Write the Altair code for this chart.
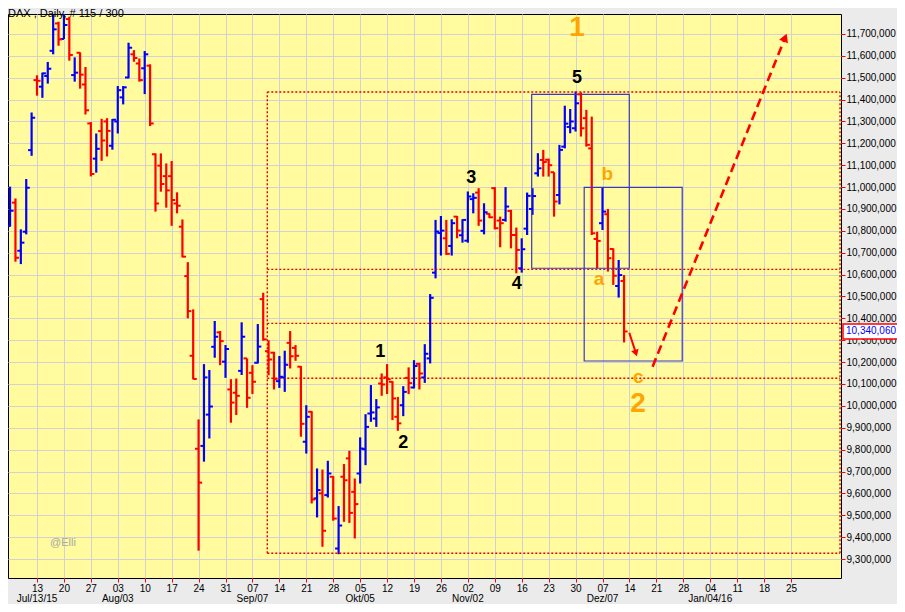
import altair as alt
import pandas as pd

# ---------------- data (DAX daily OHLC, trading-day index; 0 = Mon 13 Jul 2015) --------------
idx = list(range(-5, 110))
opens = [10822, 10929, 10709, 10796, 11169,
         11489, 11459, 11508, 11623, 11748, 11677, 11768, 11512, 11614, 11469,
         11291, 11130, 11256, 11300, 11189, 11300, 11410, 11501, 11607, 11565,
         11543, 11555, 11150, 11098, 11050, 11050, 10925, 10819, 10593, 10229,
         9804, 9817, 9960, 10270, 10336, 10202, 10075, 10060, 10160, 10217,
         10151, 10197, 10488, 10250, 10243, 10113, 10130, 10288, 10265, 10179,
         9836, 9973, 9577, 9600, 9592, 9676, 9348, 9676, 9760, 9607,
         9691, 9802, 9965, 9942, 10102, 10130, 10110, 9950, 10003, 10128,
         10084, 10192, 10130, 10217, 10609, 10790, 10766, 10731, 10865, 10780,
         10755, 10945, 10975, 10800, 10878, 10995, 10847, 10850, 10891, 10781,
         10629, 10810, 10900, 11063, 11124, 11125, 11068, 10964, 11185, 11275,
         11269, 11424, 11315, 11177, 10763, 10835, 10876, 10717, 10548, 10571]
highs = [11002, 10948, 10807, 11037, 11341,
         11511, 11523, 11572, 11787, 11756, 11790, 11779, 11593, 11616, 11549,
         11297, 11245, 11312, 11315, 11311, 11462, 11462, 11660, 11626, 11588,
         11622, 11561, 11154, 11154, 11108, 11119, 10976, 10852, 10657, 10441,
         9938, 10191, 10164, 10388, 10342, 10278, 10122, 10125, 10382, 10217,
         10186, 10374, 10517, 10300, 10247, 10228, 10252, 10342, 10278, 10182,
         10003, 9976, 9714, 9709, 9749, 9679, 9542, 9734, 9795, 9668,
         9856, 9962, 10095, 10031, 10148, 10191, 10113, 10041, 10090, 10176,
         10209, 10197, 10282, 10511, 10850, 10868, 10850, 10853, 10868, 10853,
         10980, 10972, 10995, 10926, 10880, 11000, 10865, 11000, 10896, 10815,
         10766, 10975, 10995, 11155, 11170, 11130, 11068, 11193, 11372, 11357,
         11437, 11433, 11353, 11322, 10796, 10998, 10900, 10720, 10667, 10598]
lows = [10819, 10659, 10648, 10784, 11143,
        11418, 11408, 11473, 11607, 11646, 11677, 11578, 11482, 11450, 11332,
        11049, 11066, 11120, 11140, 11171, 11245, 11378, 11497, 11573, 11482,
        11425, 11279, 10888, 10979, 10906, 10823, 10880, 10679, 10400, 10121,
        9338, 9745, 9851, 10220, 10186, 10128, 9923, 9958, 10141, 9991,
        10054, 10194, 10298, 10140, 10075, 10082, 10064, 10171, 10206, 9859,
        9782, 9554, 9490, 9356, 9581, 9475, 9322, 9470, 9465, 9394,
        9645, 9729, 9927, 9904, 10046, 10054, 9935, 9886, 9953, 10054,
        10080, 10075, 10105, 10194, 10583, 10687, 10690, 10687, 10766, 10746,
        10746, 10880, 10823, 10784, 10858, 10807, 10725, 10842, 10720, 10606,
        10609, 10781, 10873, 11048, 11048, 11048, 10865, 10921, 11177, 11246,
        11254, 11231, 11185, 10781, 10629, 10804, 10614, 10553, 10495, 10290]
closes = [10892, 10677, 10746, 10997, 11317,
          11486, 11520, 11541, 11721, 11675, 11741, 11604, 11523, 11514, 11351,
          11060, 11175, 11213, 11257, 11308, 11443, 11456, 11637, 11590, 11489,
          11607, 11291, 10925, 11014, 10985, 10941, 10915, 10682, 10433, 10123,
          9649, 10130, 9997, 10316, 10296, 10260, 10015, 10046, 10316, 10037,
          10110, 10271, 10304, 10212, 10123, 10133, 10188, 10227, 10229, 9918,
          9950, 9572, 9615, 9429, 9691, 9485, 9453, 9660, 9511, 9551,
          9805, 9904, 9970, 9993, 10098, 10122, 10034, 9920, 10064, 10104,
          10182, 10148, 10238, 10494, 10797, 10801, 10695, 10835, 10801, 10850,
          10957, 10951, 10847, 10885, 10862, 10812, 10835, 10911, 10781, 10713,
          10716, 10960, 10959, 11086, 11115, 11100, 10934, 11170, 11290, 11300,
          11383, 11269, 11193, 10789, 10754, 10888, 10675, 10595, 10598, 10340.06]

week_ticks = list(range(0, 141, 5))
day_labels = ["13", "20", "27", "03", "10", "17", "24", "31", "07", "14", "21", "28",
              "05", "12", "19", "26", "02", "09", "16", "23", "30", "07", "14", "21",
              "28", "04", "11", "18", "25"]
month_pos = [0, 15, 40, 60, 80, 105, 125]
month_labels = ["Jul/13/15", "Aug/03", "Sep/07", "Okt/05", "Nov/02", "Dez/07", "Jan/04/16"]
y_ticks = list(range(9300, 11701, 100))

# annotations
wave_black_text = ["1", "2", "3", "4", "5"]
wave_black_i = [63.74, 68.0, 80.63, 89.07, 100.26]
wave_black_v = [10246, 9832, 11043, 10557, 11499]
wave_big_text = ["1", "2"]
wave_big_i = [100.26, 111.59]
wave_big_v = [11727, 10008]
wave_small_text = ["a", "b", "c"]
wave_small_i = [104.34, 105.89, 111.64]
wave_small_v = [10578, 11060, 10130]

level_vals = [11435, 10624, 10377, 10126, 9326]
level_i0, level_i1 = 42.76, 149.1
box_i0 = [91.85, 101.6]
box_i1 = [109.97, 119.8]
box_v0 = [11424, 10999]
box_v1 = [10629, 10205]

dash_i = [114.3, 138.9]
dash_v = [10179, 11683]
solid_i = [109.97, 111.2]
solid_v = [10334, 10241]

last_close = 10340.06

# ---------------- scales ----------------
W, H = 833, 564
xs = alt.Scale(domain=[-5.384, 149.28], nice=False, zero=False)
ys = alt.Scale(domain=[9213.2, 11791.2], nice=False, zero=False)
FONT = "Liberation Sans"

x_axis = alt.Axis(values=week_ticks,
                  labelExpr="[" + ",".join("'%s'" % s for s in day_labels) + "][round(datum.value/5)]",
                  tickColor="#FF0000", tickSize=4, labelPadding=1, labelFontSize=10,
                  labelFont=FONT, labelColor="#000000", labelOverlap=False, labelFlush=False,
                  grid=True, gridColor="#D2D2D2", gridWidth=1, domain=False, title=None)
y_axis = alt.Axis(orient="right", values=y_ticks,
                  labelExpr="format(datum.value*1000, ',')",
                  tickColor="#FF0000", tickSize=4, labelPadding=1, labelFontSize=10,
                  labelFont=FONT, labelColor="#000000", labelOverlap=False,
                  grid=True, gridColor="#D2D2D2", gridWidth=1, domain=False, title=None)


def X(f):
    return alt.X(f, scale=xs, axis=x_axis, title=None)


def Y(f):
    return alt.Y(f, scale=ys, axis=y_axis, title=None)


df = pd.DataFrame({"i": idx, "o": opens, "h": highs, "l": lows, "c": closes})
df["dir"] = ["up" if c > o else "down" for o, c in zip(df.o, df.c)]
df["il"] = df.i - 0.66
df["ir"] = df.i + 0.66
col = alt.Color("dir:N", scale=alt.Scale(domain=["up", "down"], range=["#0000FF", "#FF0000"]),
                legend=None)

base = alt.Chart(df)
bars = base.mark_rule(strokeWidth=2.2, strokeCap="butt").encode(
    x=X("i:Q"), y=Y("l:Q"), y2="h:Q", color=col)
open_t = base.mark_rule(strokeWidth=2, strokeCap="butt").encode(
    x=X("il:Q"), x2="i:Q", y=Y("o:Q"), color=col)
close_t = base.mark_rule(strokeWidth=2, strokeCap="butt").encode(
    x=X("i:Q"), x2="ir:Q", y=Y("c:Q"), color=col)

# red dotted levels
lev_df = pd.DataFrame({"v": level_vals, "i0": level_i0, "i1": level_i1})
levels = alt.Chart(lev_df).mark_rule(color="#E80000", strokeWidth=1.4, strokeDash=[2, 2]).encode(
    x=X("i0:Q"), x2="i1:Q", y=Y("v:Q"))
vert_df = pd.DataFrame({"i": [level_i0, level_i1], "v0": min(level_vals), "v1": max(level_vals)})
verts = alt.Chart(vert_df).mark_rule(color="#E80000", strokeWidth=1.4, strokeDash=[2, 2]).encode(
    x=X("i:Q"), y=Y("v0:Q"), y2="v1:Q")

box_df = pd.DataFrame({"i0": box_i0, "i1": box_i1, "v0": box_v0, "v1": box_v1})
boxes = alt.Chart(box_df).mark_rect(fill=None, stroke="#3838C8", strokeWidth=1.2).encode(
    x=X("i0:Q"), x2="i1:Q", y=Y("v0:Q"), y2="v1:Q")

# arrows
dash_df = pd.DataFrame({"i": dash_i, "v": dash_v})
dash_line = alt.Chart(dash_df).mark_line(color="#FF0000", strokeWidth=2.6, strokeDash=[9, 5]).encode(
    x=X("i:Q"), y=Y("v:Q"))
dash_head = alt.Chart(dash_df.tail(1)).mark_point(shape="triangle-up", filled=True, size=90,
                                                   angle=21.9, color="#FF0000", opacity=1).encode(
    x=X("i:Q"), y=Y("v:Q"))
solid_df = pd.DataFrame({"i": solid_i, "v": solid_v})
solid_line = alt.Chart(solid_df).mark_line(color="#FF0000", strokeWidth=2).encode(
    x=X("i:Q"), y=Y("v:Q"))
solid_head = alt.Chart(solid_df.tail(1)).mark_point(shape="triangle-up", filled=True, size=60,
                                                     angle=161.6, color="#FF0000", opacity=1).encode(
    x=X("i:Q"), y=Y("v:Q"))


def txt(texts, ii, vv, size, color, weight="bold"):
    d = pd.DataFrame({"t": texts, "i": ii, "v": vv})
    return alt.Chart(d).mark_text(font=FONT, fontSize=size, fontWeight=weight, color=color,
                                  align="center", baseline="middle").encode(
        x=X("i:Q"), y=Y("v:Q"), text="t:N")


w_black = txt(wave_black_text, wave_black_i, wave_black_v, 18, "#000000")
w_big = txt(wave_big_text, wave_big_i, wave_big_v, 28, "#FFA500")
w_small = txt(wave_small_text, wave_small_i, wave_small_v, 19, "#FFA500")
watermark = txt(["@Elli"], [4.83], [9373], 11, "#A8A8A8", "normal")

# month labels under the day labels
m_df = pd.DataFrame({"i": month_pos, "t": month_labels})
months = alt.Chart(m_df).mark_text(font=FONT, fontSize=10, color="#000000", align="center",
                                   baseline="middle").encode(
    x=X("i:Q"), y=alt.value(H + 21), text="t:N")

title = alt.Chart(pd.DataFrame({"t": ["DAX , Daily, # 115 / 300"]})).mark_text(
    font=FONT, fontSize=11, color="#000000", align="left", baseline="alphabetic").encode(
    x=alt.value(0), y=alt.value(3), text="t:N")

# last value box on the right axis
lv_df = pd.DataFrame({"v": [last_close], "v0": [last_close - 34], "v1": [last_close + 34],
                      "t": ["10,340,060"]})
lv_box = alt.Chart(lv_df).mark_rect(fill="#FFFFFF", stroke="#FF0000", strokeWidth=1.5).encode(
    x=alt.value(W + 2), x2=alt.value(W + 60),
    y=Y("v0:Q"), y2="v1:Q")
lv_txt = alt.Chart(lv_df).mark_text(font=FONT, fontSize=10, color="#0000FF", align="left",
                                    baseline="middle").encode(
    x=alt.value(W + 5), y=Y("v:Q"), text="t:N")

chart = alt.layer(
    bars, levels, verts, boxes, open_t, close_t, dash_line, dash_head, solid_line, solid_head,
    w_black, w_big, w_small, watermark, months, title, lv_box, lv_txt
).properties(
    width=W, height=H,
    autosize=alt.AutoSizeParams(type="none"),
    padding={"left": 0, "top": 6, "right": 56, "bottom": 26},
    background="#EBEBEB",
).configure_view(fill="#FFFB9E", stroke="#000000", strokeWidth=1)

chart.save("out.html", embed_options={"renderer": "svg", "actions": False})
